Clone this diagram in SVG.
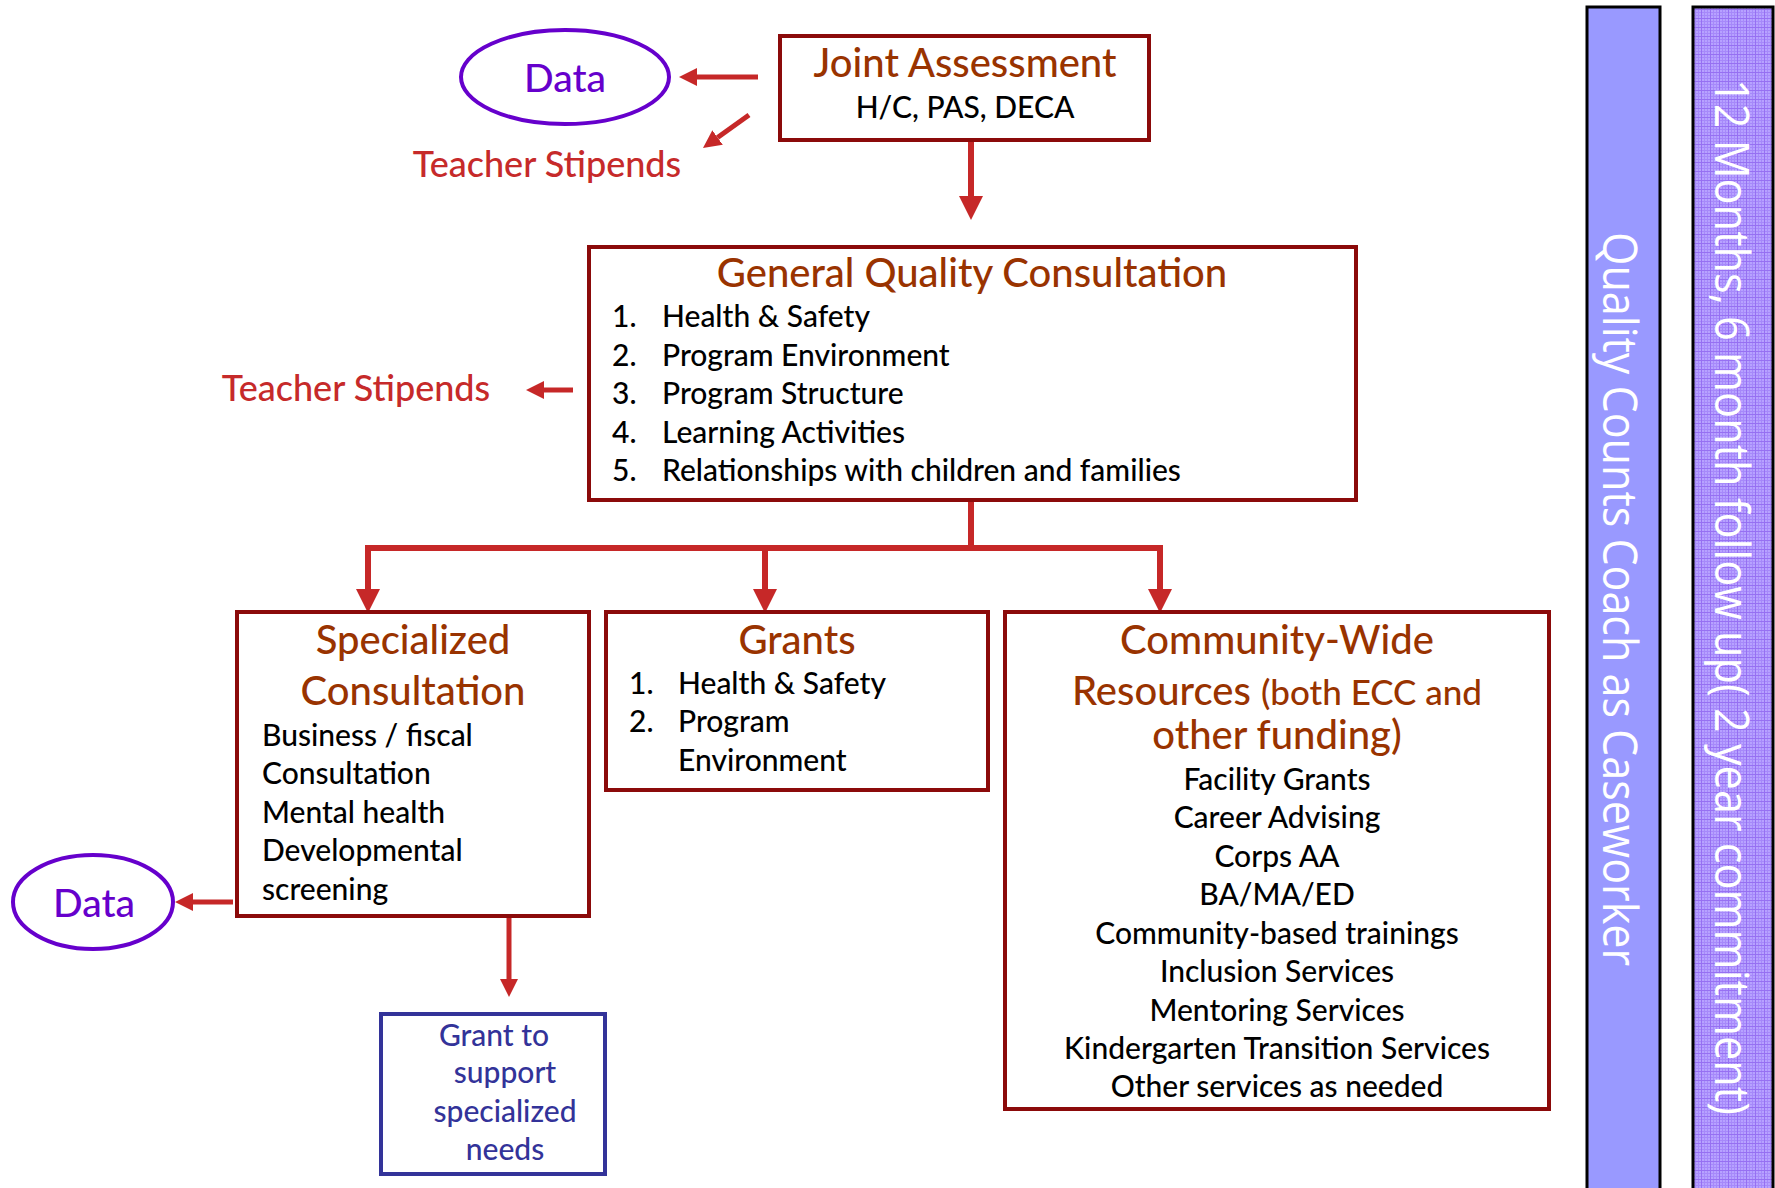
<svg xmlns="http://www.w3.org/2000/svg" width="1775" height="1188" viewBox="0 0 1775 1188">
<style>
.box{fill:#fff;stroke:#8B0A0A;stroke-width:4}
.title{font-family:Lato,"Noto Sans",sans-serif;font-size:40px;font-weight:500;fill:#993300}
.body{font-family:Lato,"Noto Sans",sans-serif;font-size:30px;font-weight:500;fill:#000}
.red{font-family:Lato,"Noto Sans",sans-serif;font-size:36px;font-weight:500;fill:#C62A2A}
.data{font-family:Lato,"Noto Sans",sans-serif;font-size:39px;font-weight:500;fill:#6600CC}
.ell{fill:#fff;stroke:#6600CC;stroke-width:4}
.blue{font-family:Lato,"Noto Sans",sans-serif;font-size:30px;font-weight:500;fill:#333399}
.vert{font-family:"Open Sans","Noto Sans",sans-serif;font-size:47px;fill:#fff}
.c{text-anchor:middle}
.conn{stroke:#C62828;fill:none}
</style>
<defs>
<marker id="big" markerUnits="userSpaceOnUse" markerWidth="24" markerHeight="26" viewBox="0 0 10 10" refX="0" refY="5" orient="auto"><path d="M0,0 L10,5 L0,10 z" fill="#C62828"/></marker>
<marker id="small" markerUnits="userSpaceOnUse" markerWidth="18" markerHeight="19" viewBox="0 0 10 10" refX="0" refY="5" orient="auto"><path d="M0,0 L10,5 L0,10 z" fill="#C62828"/></marker>
<pattern id="grid" patternUnits="userSpaceOnUse" width="9" height="9">
<rect width="9" height="9" fill="#B7A2FF"/>
<path d="M0,0.5H9M0,3.5H9M0,6.5H9" stroke="#A689FA" stroke-width="1"/>
<path d="M0.5,0V9M3.5,0V9M6.5,0V9" stroke="#A689FA" stroke-width="1"/>
<path d="M0,0.5H9M0.5,0V9" stroke="#9670F2" stroke-width="1"/>
</pattern>
</defs>

<g id="bar-caseworker">
<rect x="1587" y="7" width="73" height="1195" fill="#9999FF" stroke="#000" stroke-width="3"/>
<text class="vert c" transform="translate(1603,599) rotate(90)" textLength="734" lengthAdjust="spacingAndGlyphs">Quality Counts Coach as Caseworker</text>
</g>
<g id="bar-commitment">
<rect x="1693" y="7" width="80" height="1195" fill="url(#grid)" stroke="#000" stroke-width="3"/>
<text class="vert c" transform="translate(1715,597) rotate(90)" font-size="45" textLength="1036" lengthAdjust="spacingAndGlyphs">12 Months, 6 month follow up( 2 year commitment)</text>
</g>

<g id="connectors">
<line class="conn" x1="758" y1="77" x2="697" y2="77" stroke-width="5" marker-end="url(#small)"/>
<line class="conn" x1="749" y1="115" x2="717.6" y2="137.5" stroke-width="5" marker-end="url(#small)"/>
<line class="conn" x1="971" y1="141" x2="971" y2="196" stroke-width="6" marker-end="url(#big)"/>
<line class="conn" x1="573" y1="390" x2="544" y2="390" stroke-width="5" marker-end="url(#small)"/>
<polyline class="conn" points="971,500 971,548" stroke-width="6"/>
<polyline class="conn" points="368,548 1160,548" stroke-width="6"/>
<line class="conn" x1="368" y1="545" x2="368" y2="589" stroke-width="6" marker-end="url(#big)"/>
<line class="conn" x1="765" y1="545" x2="765" y2="589" stroke-width="6" marker-end="url(#big)"/>
<line class="conn" x1="1160" y1="545" x2="1160" y2="589" stroke-width="6" marker-end="url(#big)"/>
<line class="conn" x1="233" y1="902" x2="193" y2="902" stroke-width="5" marker-end="url(#small)"/>
<line class="conn" x1="509" y1="918" x2="509" y2="979" stroke-width="5" marker-end="url(#small)"/>
</g>

<g id="data-top">
<ellipse class="ell" cx="565" cy="77" rx="104" ry="47"/>
<text class="data c" x="565" y="92">Data</text>
</g>
<g id="stipends-top">
<text class="red c" x="547" y="177">Teacher Stipends</text>
</g>
<g id="joint-assessment">
<rect class="box" x="780" y="36" width="369" height="104"/>
<text class="title c" x="965" y="77">Joint Assessment</text>
<text class="body c" x="965" y="118">H/C, PAS, DECA</text>
</g>

<g id="stipends-mid">
<text class="red c" x="356" y="401">Teacher Stipends</text>
</g>
<g id="general-quality">
<rect class="box" x="589" y="247" width="767" height="253"/>
<text class="title c" x="972" y="287">General Quality Consultation</text>
<text class="body" x="612" y="327">1.</text><text class="body" x="662" y="327">Health &amp; Safety</text>
<text class="body" x="612" y="366">2.</text><text class="body" x="662" y="366">Program Environment</text>
<text class="body" x="612" y="404">3.</text><text class="body" x="662" y="404">Program Structure</text>
<text class="body" x="612" y="443">4.</text><text class="body" x="662" y="443">Learning Activities</text>
<text class="body" x="612" y="481">5.</text><text class="body" x="662" y="481">Relationships with children and families</text>
</g>

<g id="specialized">
<rect class="box" x="237" y="612" width="352" height="304"/>
<text class="title c" x="413" y="654">Specialized</text>
<text class="title c" x="413" y="705">Consultation</text>
<text class="body" x="262" y="746">Business / fiscal</text>
<text class="body" x="262" y="784">Consultation</text>
<text class="body" x="262" y="823">Mental health</text>
<text class="body" x="262" y="861">Developmental</text>
<text class="body" x="262" y="900">screening</text>
</g>

<g id="grants">
<rect class="box" x="606" y="612" width="382" height="178"/>
<text class="title c" x="797" y="654">Grants</text>
<text class="body" x="629" y="694">1.</text><text class="body" x="678" y="694">Health &amp; Safety</text>
<text class="body" x="629" y="732">2.</text><text class="body" x="678" y="732">Program</text>
<text class="body" x="678" y="771">Environment</text>
</g>

<g id="community">
<rect class="box" x="1005" y="612" width="544" height="497"/>
<text class="title c" x="1277" y="654">Community-Wide</text>
<text class="title c" x="1277" y="705">Resources <tspan font-size="35">(both ECC and</tspan></text>
<text class="title c" x="1277" y="749" font-size="33">other funding)</text>
<text class="body c" x="1277" y="790">Facility Grants</text>
<text class="body c" x="1277" y="828">Career Advising</text>
<text class="body c" x="1277" y="867">Corps AA</text>
<text class="body c" x="1277" y="905">BA/MA/ED</text>
<text class="body c" x="1277" y="944">Community-based trainings</text>
<text class="body c" x="1277" y="982">Inclusion Services</text>
<text class="body c" x="1277" y="1021">Mentoring Services</text>
<text class="body c" x="1277" y="1059">Kindergarten Transition Services</text>
<text class="body c" x="1277" y="1097">Other services as needed</text>
</g>

<g id="data-bottom">
<ellipse class="ell" cx="93" cy="902" rx="80" ry="47"/>
<text class="data c" x="94" y="917">Data</text>
</g>

<g id="grant-support">
<rect x="381" y="1014" width="224" height="160" fill="#fff" stroke="#333399" stroke-width="4"/>
<text class="blue c" x="494" y="1046">Grant to</text>
<text class="blue c" x="505" y="1083">support</text>
<text class="blue c" x="505" y="1122">specialized</text>
<text class="blue c" x="505" y="1160">needs</text>
</g>
</svg>
